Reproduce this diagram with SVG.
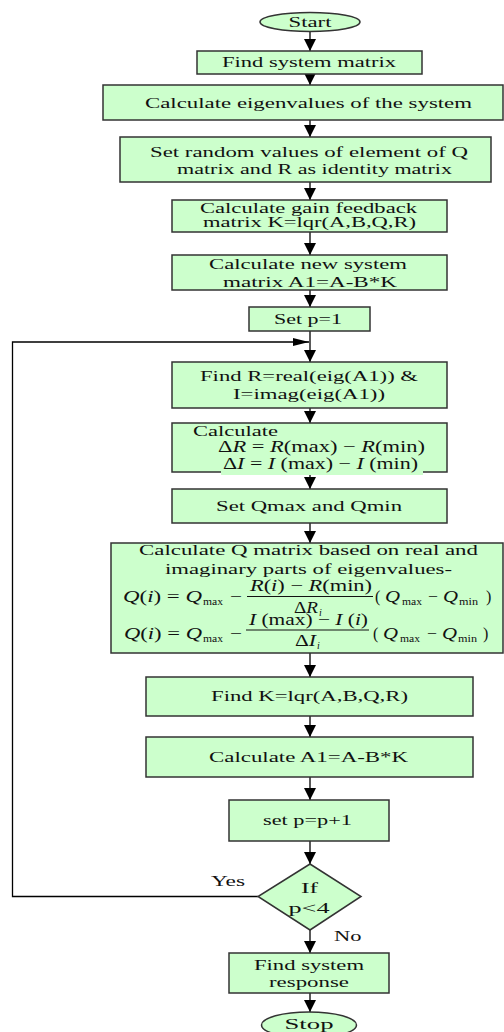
<svg xmlns="http://www.w3.org/2000/svg" width="504" height="1032" viewBox="0 0 504 1032">
  <style>
    .box { fill: #ccffcc; stroke: #333; stroke-width: 1.5; }
    .t { font-family: "Liberation Serif", "Times New Roman", serif; font-size: 15.5px; fill: #111; }
    .m { font-family: "Liberation Serif", "Times New Roman", serif; font-size: 16px; fill: #111; }
    .sub { font-family: "Liberation Serif", "Times New Roman", serif; font-size: 10px; fill: #111; }
    .it { font-style: italic; }
    .ln { fill: none; stroke: #000; stroke-width: 1.3; }
    .bar { stroke: #111; stroke-width: 1.2; }
  </style>
  <defs>
    <marker id="ah" markerUnits="userSpaceOnUse" markerWidth="12" markerHeight="12" refX="12" refY="6" orient="auto">
      <path d="M0,0 L12,6 L0,12 Z" fill="#000"/>
    </marker>
    <marker id="ahLoop" markerUnits="userSpaceOnUse" markerWidth="16" markerHeight="8" refX="16" refY="4" orient="auto">
      <path d="M0,0 L16,4 L0,8 Z" fill="#000"/>
    </marker>
  </defs>

  <!-- connectors -->
  <g id="connectors">
    <line class="ln" x1="310" y1="31" x2="310" y2="51" marker-end="url(#ah)"/>
    <line class="ln" x1="310" y1="74" x2="310" y2="85" marker-end="url(#ah)"/>
    <line class="ln" x1="310" y1="120" x2="310" y2="137" marker-end="url(#ah)"/>
    <line class="ln" x1="310" y1="182" x2="310" y2="200" marker-end="url(#ah)"/>
    <line class="ln" x1="310" y1="232" x2="310" y2="255" marker-end="url(#ah)"/>
    <line class="ln" x1="310" y1="290" x2="310" y2="307" marker-end="url(#ah)"/>
    <line class="ln" x1="310" y1="331" x2="310" y2="362" marker-end="url(#ah)"/>
    <line class="ln" x1="310" y1="408" x2="310" y2="423" marker-end="url(#ah)"/>
    <line class="ln" x1="310" y1="475" x2="310" y2="489" marker-end="url(#ah)"/>
    <line class="ln" x1="310" y1="523" x2="310" y2="543" marker-end="url(#ah)"/>
    <line class="ln" x1="310" y1="653" x2="310" y2="677" marker-end="url(#ah)"/>
    <line class="ln" x1="310" y1="716" x2="310" y2="737" marker-end="url(#ah)"/>
    <line class="ln" x1="310" y1="777" x2="310" y2="800" marker-end="url(#ah)"/>
    <line class="ln" x1="310" y1="841" x2="310" y2="864" marker-end="url(#ah)"/>
    <line class="ln" x1="310" y1="930" x2="310" y2="953" marker-end="url(#ah)"/>
    <line class="ln" x1="310" y1="993" x2="310" y2="1012" marker-end="url(#ah)"/>
    <!-- loop back from the decision -->
    <path class="ln" d="M258,896.5 H12.5 V342 H309" marker-end="url(#ahLoop)"/>
    <text class="t" x="211" y="886" textLength="34" lengthAdjust="spacingAndGlyphs">Yes</text>
    <text class="t" x="334" y="940.5" textLength="27.5" lengthAdjust="spacingAndGlyphs">No</text>
  </g>

  <g id="start">
    <ellipse class="box" cx="310" cy="22" rx="50" ry="9.5"/>
    <text class="t" x="288.5" y="26.5" textLength="43" lengthAdjust="spacingAndGlyphs">Start</text>
  </g>

  <g id="find-system-matrix">
    <rect class="box" x="197" y="51" width="225" height="23"/>
    <text class="t" x="222" y="67" textLength="174" lengthAdjust="spacingAndGlyphs">Find system matrix</text>
  </g>

  <g id="eigenvalues">
    <rect class="box" x="103" y="85" width="400" height="35"/>
    <text class="t" x="145" y="107.5" textLength="327" lengthAdjust="spacingAndGlyphs">Calculate eigenvalues of the system</text>
  </g>

  <g id="random-q">
    <rect class="box" x="120" y="137" width="371" height="45"/>
    <text class="t" x="150" y="156.5" textLength="318" lengthAdjust="spacingAndGlyphs">Set random values of element of Q</text>
    <text class="t" x="177" y="174" textLength="275" lengthAdjust="spacingAndGlyphs">matrix and R as identity matrix</text>
  </g>

  <g id="gain-feedback">
    <rect class="box" x="172" y="200" width="275" height="32"/>
    <text class="t" x="200" y="213" font-size="14.5" textLength="217" lengthAdjust="spacingAndGlyphs">Calculate gain feedback</text>
    <text class="t" x="203" y="227" font-size="14.5" textLength="213" lengthAdjust="spacingAndGlyphs">matrix K=lqr(A,B,Q,R)</text>
  </g>

  <g id="new-system-matrix">
    <rect class="box" x="172" y="255" width="275" height="35"/>
    <text class="t" x="209" y="268.5" textLength="198" lengthAdjust="spacingAndGlyphs">Calculate new system</text>
    <text class="t" x="223" y="286.5" textLength="174" lengthAdjust="spacingAndGlyphs">matrix A1=A-B*K</text>
  </g>

  <g id="set-p1">
    <rect class="box" x="249" y="307" width="121" height="24"/>
    <text class="t" x="274" y="323.5" textLength="68" lengthAdjust="spacingAndGlyphs">Set p=1</text>
  </g>

  <g id="find-r-i">
    <rect class="box" x="172" y="362" width="275" height="46"/>
    <text class="t" x="200" y="381" textLength="218" lengthAdjust="spacingAndGlyphs">Find R=real(eig(A1)) &amp;</text>
    <text class="t" x="233" y="399" textLength="152" lengthAdjust="spacingAndGlyphs">I=imag(eig(A1))</text>
  </g>

  <g id="delta-ri">
    <rect class="box" x="172" y="423" width="275" height="49"/>
    <rect x="221" y="460" width="202" height="15" fill="#ccffcc"/>
    <text class="t" x="193" y="435.5" textLength="85" lengthAdjust="spacingAndGlyphs">Calculate</text>
    <text class="m" x="218" y="452" textLength="207" lengthAdjust="spacingAndGlyphs">Δ<tspan class="it">R</tspan> = <tspan class="it">R</tspan>(max) − <tspan class="it">R</tspan>(min)</text>
    <text class="m" x="223" y="468.5" textLength="195" lengthAdjust="spacingAndGlyphs">Δ<tspan class="it">I</tspan> = <tspan class="it">I</tspan> (max) − <tspan class="it">I</tspan> (min)</text>
  </g>

  <g id="set-qmax-qmin">
    <rect class="box" x="172" y="489" width="275" height="34"/>
    <text class="t" x="216" y="511" textLength="186" lengthAdjust="spacingAndGlyphs">Set Qmax and Qmin</text>
  </g>

  <g id="q-matrix">
    <rect class="box" x="111" y="543" width="392" height="110"/>
    <text class="t" x="139" y="555" textLength="339" lengthAdjust="spacingAndGlyphs">Calculate Q matrix based on real and</text>
    <text class="t" x="165" y="574" textLength="287" lengthAdjust="spacingAndGlyphs">imaginary parts of eigenvalues-</text>

    <!-- first formula: real parts -->
    <text class="m" x="123" y="602" textLength="79" lengthAdjust="spacingAndGlyphs"><tspan class="it">Q</tspan>(<tspan class="it">i</tspan>) = <tspan class="it">Q</tspan></text>
    <text class="sub" x="203" y="605" textLength="20" lengthAdjust="spacingAndGlyphs">max</text>
    <text class="m" x="230" y="602" textLength="12" lengthAdjust="spacingAndGlyphs">−</text>
    <line class="bar" x1="247" y1="596.5" x2="373" y2="596.5"/>
    <text class="m" x="250" y="591" textLength="122" lengthAdjust="spacingAndGlyphs"><tspan class="it">R</tspan>(<tspan class="it">i</tspan>) − <tspan class="it">R</tspan>(min)</text>
    <text class="m" x="294" y="612.5" font-size="15" textLength="24" lengthAdjust="spacingAndGlyphs">Δ<tspan class="it">R</tspan></text>
    <text class="sub it" x="319" y="615.5">i</text>
    <text class="m" x="375" y="602">(</text>
    <text class="m it" x="385" y="602" textLength="15" lengthAdjust="spacingAndGlyphs">Q</text>
    <text class="sub" x="402" y="605" textLength="20" lengthAdjust="spacingAndGlyphs">max</text>
    <text class="m" x="428" y="602" textLength="10" lengthAdjust="spacingAndGlyphs">−</text>
    <text class="m it" x="443" y="602" textLength="15" lengthAdjust="spacingAndGlyphs">Q</text>
    <text class="sub" x="459" y="605" textLength="19" lengthAdjust="spacingAndGlyphs">min</text>
    <text class="m" x="486" y="602">)</text>

    <!-- second formula: imaginary parts -->
    <text class="m" x="124" y="638.5" textLength="78" lengthAdjust="spacingAndGlyphs"><tspan class="it">Q</tspan>(<tspan class="it">i</tspan>) = <tspan class="it">Q</tspan></text>
    <text class="sub" x="203" y="641.5" textLength="20" lengthAdjust="spacingAndGlyphs">max</text>
    <text class="m" x="230" y="638.5" textLength="12" lengthAdjust="spacingAndGlyphs">−</text>
    <line class="bar" x1="246" y1="630" x2="369" y2="630"/>
    <text class="m" x="249" y="624.5" textLength="119" lengthAdjust="spacingAndGlyphs"><tspan class="it">I</tspan> (max) − <tspan class="it">I</tspan> (<tspan class="it">i</tspan>)</text>
    <text class="m" x="295" y="645.5" font-size="15" textLength="21" lengthAdjust="spacingAndGlyphs">Δ<tspan class="it">I</tspan></text>
    <text class="sub it" x="317" y="648.5">i</text>
    <text class="m" x="373" y="638.5">(</text>
    <text class="m it" x="383" y="638.5" textLength="15" lengthAdjust="spacingAndGlyphs">Q</text>
    <text class="sub" x="400" y="641.5" textLength="20" lengthAdjust="spacingAndGlyphs">max</text>
    <text class="m" x="427" y="638.5" textLength="10" lengthAdjust="spacingAndGlyphs">−</text>
    <text class="m it" x="442" y="638.5" textLength="15" lengthAdjust="spacingAndGlyphs">Q</text>
    <text class="sub" x="458" y="641.5" textLength="19" lengthAdjust="spacingAndGlyphs">min</text>
    <text class="m" x="483" y="638.5">)</text>
  </g>

  <g id="find-k">
    <rect class="box" x="146" y="677" width="327" height="39"/>
    <text class="t" x="211" y="701" textLength="197" lengthAdjust="spacingAndGlyphs">Find K=lqr(A,B,Q,R)</text>
  </g>

  <g id="calc-a1">
    <rect class="box" x="146" y="737" width="327" height="40"/>
    <text class="t" x="209" y="762" textLength="199" lengthAdjust="spacingAndGlyphs">Calculate A1=A-B*K</text>
  </g>

  <g id="increment-p">
    <rect class="box" x="229" y="800" width="160" height="41"/>
    <text class="t" x="263" y="825" textLength="89" lengthAdjust="spacingAndGlyphs">set p=p+1</text>
  </g>

  <g id="decision">
    <polygon class="box" points="310,864 361,896.5 310,930 258,896.5"/>
    <text class="t" x="301" y="892.5" font-size="17" textLength="17" lengthAdjust="spacingAndGlyphs">If</text>
    <text class="t" x="288.5" y="912.5" font-size="17" textLength="41" lengthAdjust="spacingAndGlyphs">p&lt;4</text>
  </g>

  <g id="system-response">
    <rect class="box" x="229" y="953" width="160" height="40"/>
    <text class="t" x="254" y="969.5" textLength="110" lengthAdjust="spacingAndGlyphs">Find system</text>
    <text class="t" x="269" y="987" textLength="80" lengthAdjust="spacingAndGlyphs">response</text>
  </g>

  <g id="stop">
    <ellipse class="box" cx="309" cy="1025" rx="47.5" ry="13"/>
    <text class="t" x="284.5" y="1029" font-size="17" textLength="49" lengthAdjust="spacingAndGlyphs">Stop</text>
  </g>
</svg>
